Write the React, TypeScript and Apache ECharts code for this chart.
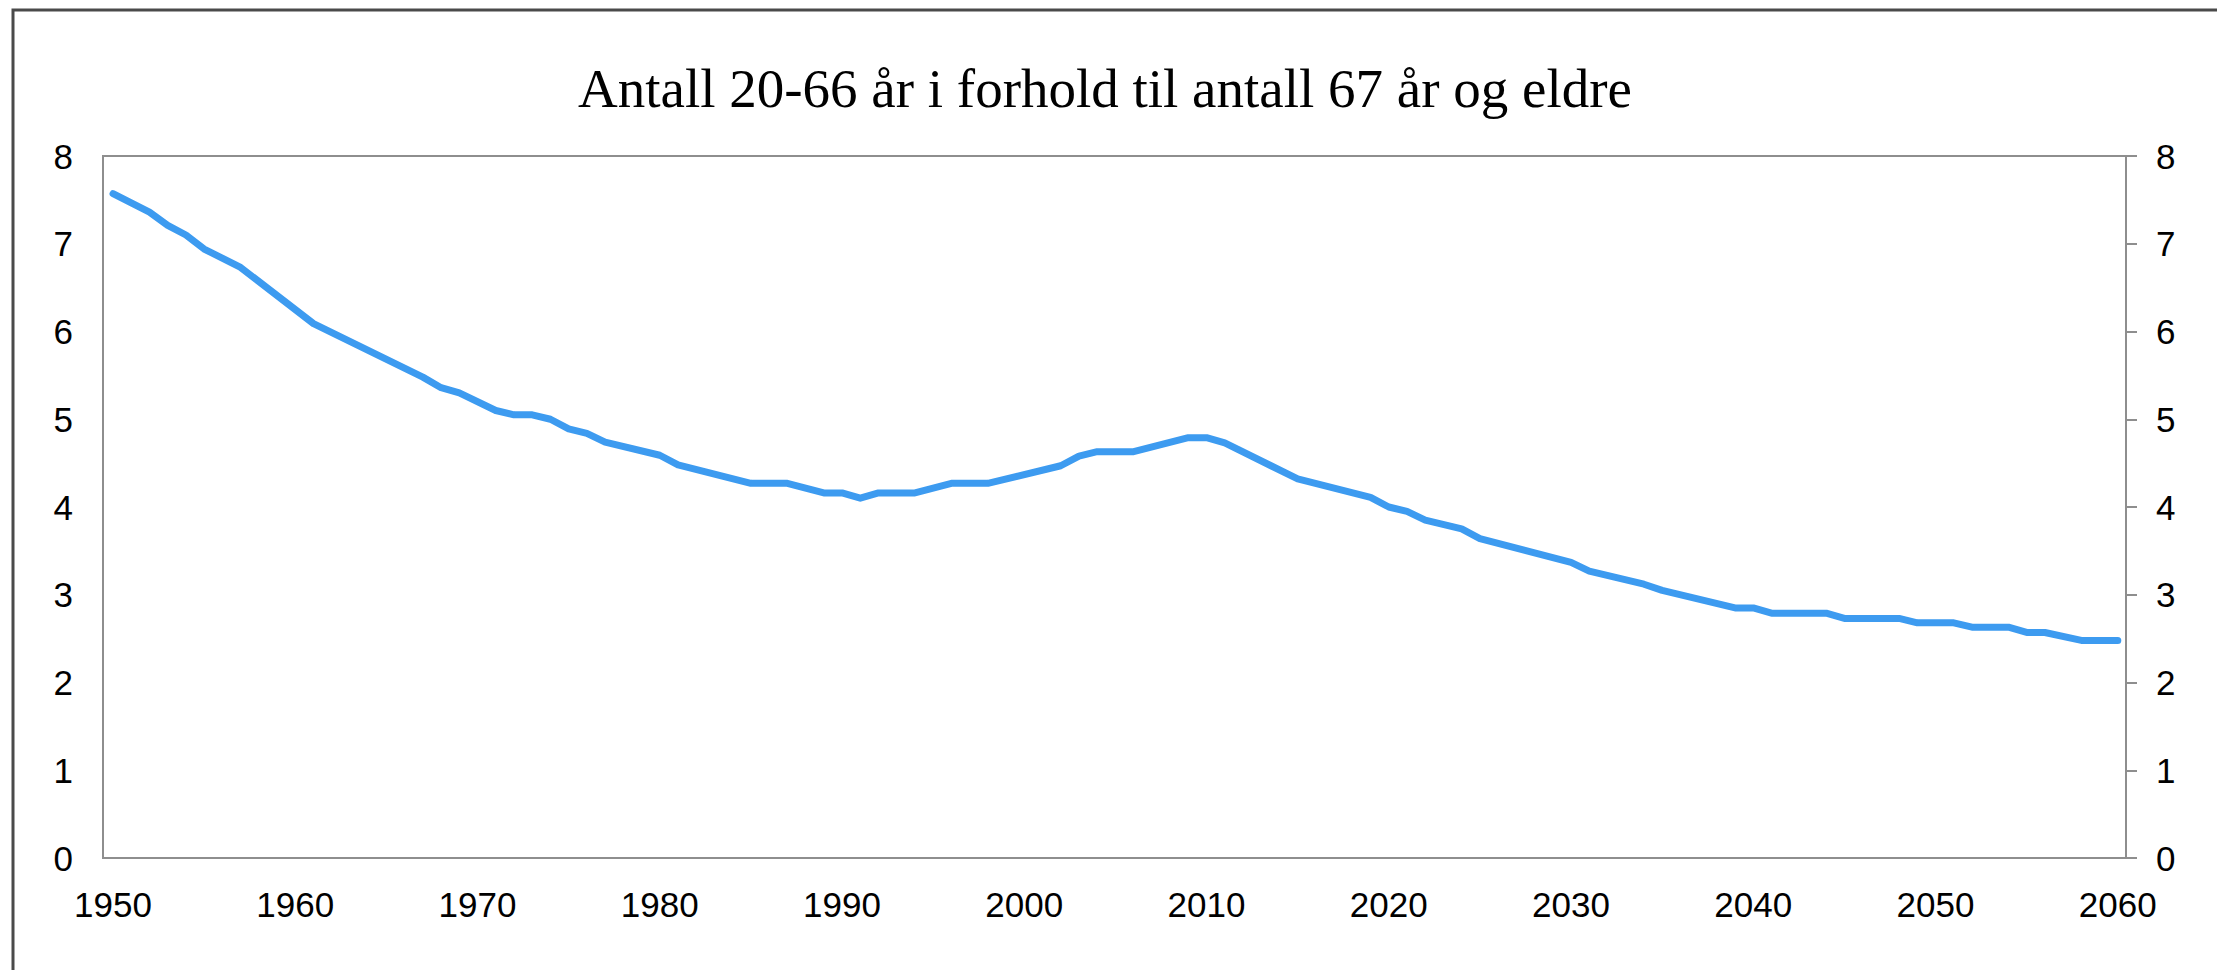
import React, { useEffect, useRef } from "react";
import * as echarts from "echarts";

const titleText = "Antall 20-66 år i forhold til antall 67 år og eldre";

const years = [
  1950, 1952, 1953, 1954, 1955, 1957, 1961, 1967, 1968, 1969, 1971, 1972, 1973, 1974,
  1975, 1976, 1977, 1980, 1981, 1985, 1987, 1989, 1990, 1991, 1992, 1994, 1996, 1998,
  2002, 2003, 2004, 2006, 2009, 2010, 2011, 2015, 2019, 2020, 2021, 2022, 2024, 2025,
  2030, 2031, 2034, 2035, 2039, 2040, 2041, 2044, 2045, 2048, 2049, 2051, 2052, 2054,
  2055, 2056, 2058, 2060,
];

const values = [
  7.57, 7.36, 7.21, 7.1, 6.94, 6.73, 6.09, 5.48, 5.36, 5.3, 5.1, 5.05, 5.05, 5.0,
  4.89, 4.84, 4.74, 4.59, 4.48, 4.27, 4.27, 4.16, 4.16, 4.1, 4.16, 4.16, 4.27, 4.27,
  4.47, 4.58, 4.63, 4.63, 4.79, 4.79, 4.73, 4.32, 4.11, 4.0, 3.95, 3.85, 3.75, 3.64,
  3.37, 3.27, 3.12, 3.05, 2.85, 2.85, 2.79, 2.79, 2.73, 2.73, 2.68, 2.68, 2.63, 2.63,
  2.57, 2.57, 2.48, 2.48,
];

const xTickLabels = [1950, 1960, 1970, 1980, 1990, 2000, 2010, 2020, 2030, 2040, 2050, 2060];
const yTickValues = [0, 1, 2, 3, 4, 5, 6, 7, 8];

const sansFont = "'Liberation Sans', Arial, Helvetica, sans-serif";
const serifFont = "'Liberation Serif', 'Times New Roman', serif";

export default function App() {
  const ref = useRef<HTMLDivElement>(null);

  useEffect(() => {
    if (!ref.current) return;
    const chart = echarts.init(ref.current, null, { renderer: "svg" });
    const axisGray = "#8e8e8e";
    const labelStyle = {
      color: "#000",
      fontSize: 35,
      fontFamily: sansFont,
    };
    chart.setOption({
      animation: false,
      backgroundColor: "#ffffff",
      grid: {
        left: 103,
        top: 156,
        right: 91,
        bottom: 112,
        containLabel: false,
        outerBoundsMode: "none",
        show: true,
        borderColor: axisGray,
        borderWidth: 2,
      },
      graphic: [
        {
          type: "rect",
          shape: { x: 13, y: 10, width: 2600, height: 1400 },
          style: { fill: "none", stroke: "#4a4a4a", lineWidth: 3 },
          silent: true,
        },
        {
          type: "text",
          x: 1105,
          y: 88,
          style: {
            text: titleText,
            fontSize: 55,
            fontFamily: serifFont,
            fill: "#000",
            align: "center",
            verticalAlign: "middle",
          },
        },
      ],
      xAxis: {
        type: "value",
        min: 1949.45,
        max: 2060.45,
        axisLine: { show: true, lineStyle: { color: axisGray, width: 2 } },
        axisTick: { show: false },
        splitLine: { show: false },
        axisLabel: {
          ...labelStyle,
          margin: 29,
          customValues: xTickLabels,
          formatter: (v: number) => String(Math.round(v)),
        },
      },
      yAxis: [
        {
          type: "value",
          min: 0,
          max: 8,
          interval: 1,
          position: "left",
          axisLine: { show: true, lineStyle: { color: axisGray, width: 2 } },
          axisTick: { show: false },
          splitLine: { show: false },
          axisLabel: {
            ...labelStyle,
            margin: 30,
            customValues: yTickValues,
          },
        },
        {
          type: "value",
          min: 0,
          max: 8,
          interval: 1,
          position: "right",
          axisLine: { show: true, lineStyle: { color: axisGray, width: 2 } },
          axisTick: {
            show: true,
            inside: false,
            length: 11,
            lineStyle: { color: axisGray, width: 2 },
          },
          splitLine: { show: false },
          axisLabel: {
            ...labelStyle,
            margin: 30,
          },
        },
      ],
      series: [
        {
          type: "line",
          yAxisIndex: 0,
          data: years.map((y, i) => [y, values[i]]),
          showSymbol: false,
          symbol: "none",
          lineStyle: { color: "#3d9bf0", width: 7, cap: "round", join: "round" },
        },
      ],
    });
    return () => chart.dispose();
  }, []);

  return (
    <div
      ref={ref}
      style={{ position: "fixed", left: 0, top: 0, width: 2217, height: 970, background: "#fff" }}
    />
  );
}
